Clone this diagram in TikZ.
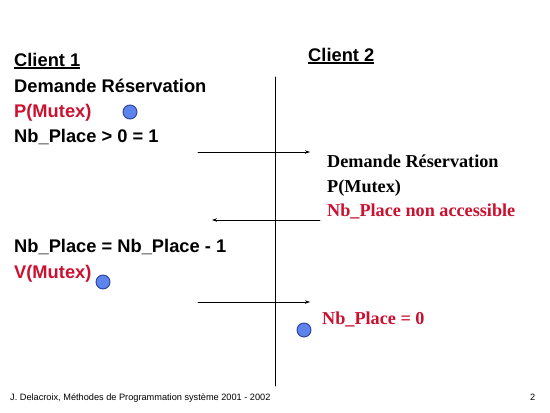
\documentclass[tikz,border=0pt]{standalone}
\usepackage{fontspec}
\setmainfont{Liberation Serif}
\setsansfont{Liberation Sans}
\usetikzlibrary{arrows.meta}
\definecolor{Redtxt}{RGB}{204,16,48}
\definecolor{Tokfill}{RGB}{92,132,236}
\definecolor{Tokdraw}{RGB}{44,64,150}
\newcommand{\ulthick}[1]{\setbox0\hbox{#1}\rlap{\rule[-2.6pt]{\wd0}{1.5pt}}\box0}

\begin{document}
\begin{tikzpicture}[x=1pt,y=-1pt,line cap=round,line join=round,
  sanstxt/.style={anchor=base west,inner sep=0pt,font=\sffamily\bfseries\fontsize{18.3}{20}\selectfont},
  seriftxt/.style={anchor=base west,inner sep=0pt,font=\rmfamily\bfseries\fontsize{18.2}{20}\selectfont},
  foot/.style={anchor=base west,inner sep=0pt,font=\sffamily\fontsize{9.2}{10}\selectfont},
  token/.style={circle,draw=Tokdraw,fill=Tokfill,line width=0.9pt,minimum size=14pt,inner sep=0pt},
  msg/.style={line width=0.7pt,-{Stealth[length=5pt,width=3.5pt]}}]
\path[use as bounding box] (0,0) rectangle (550,413);
% client 1
\node[sanstxt] (cli1) at (14,66) {\ulthick{Client 1}};
\node[sanstxt] (dem1) at (14,92) {Demande Réservation};
\node[sanstxt,text=Redtxt] (pmut1) at (14,117) {P(Mutex)};
\node[sanstxt] (nbp1) at (14,142) {Nb\_Place > 0 = 1};
\node[sanstxt] (dec1) at (14,252) {Nb\_Place = Nb\_Place - 1};
\node[sanstxt,text=Redtxt] (vmut1) at (14,278) {V(Mutex)};
\node[token] (tok1) at (130,112) {};
\node[token] (tok2) at (103,282) {};
% client 2
\node[sanstxt] (cli2) at (308,61) {\ulthick{Client 2}};
\node[seriftxt] (dem2) at (327,167) {Demande Réservation};
\node[seriftxt] (pmut2) at (327,192) {P(Mutex)};
\node[seriftxt,text=Redtxt] (nacc2) at (327,216) {Nb\_Place non accessible};
\node[seriftxt,text=Redtxt] (zero2) at (322,324) {Nb\_Place = 0};
\node[token] (tok3) at (304,330) {};
% time line
\coordinate (top) at (275,77);
\coordinate (bot) at (275,386);
\draw[line width=0.7pt] (top) -- (bot);
% switches
\coordinate (sw1a) at (198,152);
\coordinate (sw1b) at (310,152);
\coordinate (sw2a) at (320,220);
\coordinate (sw2b) at (212,220);
\coordinate (sw3a) at (198,302);
\coordinate (sw3b) at (310,302);
\draw[msg] (sw1a) -- (sw1b);
\draw[msg] (sw2a) -- (sw2b);
\draw[msg] (sw3a) -- (sw3b);
% footer
\node[foot] (auth) at (10,400) {J. Delacroix, Méthodes de Programmation système 2001 - 2002};
\node[foot] (page) at (530,400) {2};
\end{tikzpicture}
\end{document}
